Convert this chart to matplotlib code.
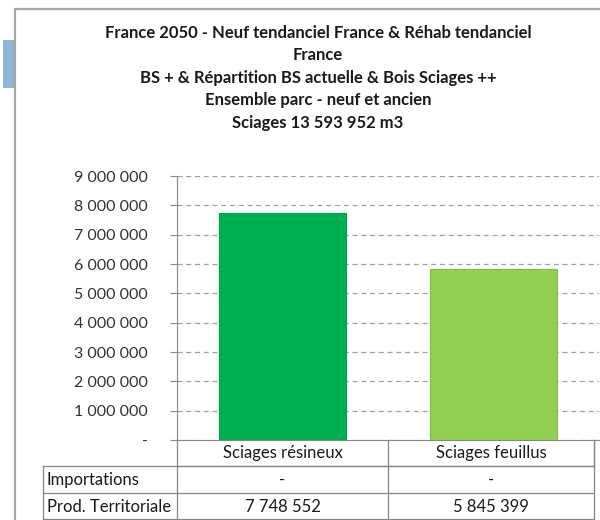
import matplotlib.pyplot as plt
from matplotlib.lines import Line2D
from matplotlib.patches import Rectangle

# données
categories = ["Sciages résineux", "Sciages feuillus"]
importations = [0, 0]
prod_territoriale = [7748552, 5845399]
row_labels = ["Importations", "Prod. Territoriale"]
yticks = [0, 1000000, 2000000, 3000000, 4000000, 5000000, 6000000, 7000000, 8000000, 9000000]
title_lines = [
    "France 2050 - Neuf tendanciel France & Réhab tendanciel",
    "France",
    "BS + & Répartition BS actuelle & Bois Sciages ++",
    "Ensemble parc - neuf et ancien",
    "Sciages 13 593 952 m3",
]
colors = ["#00b050", "#92d050"]

W, H = 600, 520
plt.rcParams["font.family"] = ["Lato", "DejaVu Sans"]


def fx(x):
    return x / W


def fy(y):
    return 1 - y / H


def fmt(v):
    if v == 0:
        return "-"
    return f"{v:,}".replace(",", " ")


fig = plt.figure(figsize=(6, 5.2), dpi=100)

# cadre du graphique
fig.add_artist(Line2D([fx(15), fx(15), fx(600)], [fy(520), fy(9), fy(9)],
                      transform=fig.transFigure, color="#a6a6a6", lw=1.6))
fig.add_artist(Rectangle((fx(3), fy(88)), fx(11), 48 / H, transform=fig.transFigure,
                         color="#8eb4d9", lw=0))

# titre
for i, line in enumerate(title_lines):
    fig.text(fx(318), fy(33 + i * 22.5), line, ha="center", va="center",
             fontsize=12, fontweight="bold", color="#1a1a1a")

ax = fig.add_axes([fx(177), fy(440), fx(599) - fx(177), (440 - 176) / H])
x = list(range(len(categories)))
ax.bar(x, prod_territoriale, width=0.6, color=colors, edgecolor=["#00a048", "#84bc48"],
       lw=0.8, zorder=3)
ax.set_xlim(-0.5, 1.5)
ax.set_ylim(0, 9000000)
ax.set_yticks(yticks)
ax.set_yticklabels([fmt(v) for v in yticks], fontsize=11.5, color="#333333")
ax.yaxis.grid(True, ls=(0, (4, 3)), color="#a0a0a0", lw=0.9)
ax.set_xticks([])
for s in ["top", "right"]:
    ax.spines[s].set_visible(False)
ax.spines["left"].set_color("#868686")
ax.spines["bottom"].set_color("#868686")
ax.tick_params(axis="y", length=5, color="#868686", pad=16)

# tableau de données
lc = "#868686"
cols = [177, 388, 594]
hlines = [(177, 594, 466), (43, 594, 466), (43, 594, 493), (43, 594, 519)]
for x0, x1, y in hlines:
    fig.add_artist(Line2D([fx(x0), fx(x1)], [fy(y), fy(y)], transform=fig.transFigure,
                          color=lc, lw=0.9))
for c in cols:
    fig.add_artist(Line2D([fx(c), fx(c)], [fy(440), fy(520)], transform=fig.transFigure,
                          color=lc, lw=0.9))
fig.add_artist(Line2D([fx(43), fx(43)], [fy(466), fy(520)], transform=fig.transFigure,
                      color=lc, lw=0.9))
fig.add_artist(Line2D([fx(594), fx(594)], [fy(440), fy(466)], transform=fig.transFigure,
                      color=lc, lw=0.9))

centers = [(cols[i] + cols[i + 1]) / 2 for i in range(2)]
for i, cat in enumerate(categories):
    fig.text(fx(centers[i]), fy(453), cat, ha="center", va="center", fontsize=12, color="#1a1a1a")
rows = [importations, prod_territoriale]
for r, (lab, vals) in enumerate(zip(row_labels, rows)):
    yy = 480 + r * 27
    fig.text(fx(47), fy(yy), lab, ha="left", va="center", fontsize=12, color="#1a1a1a")
    for i, v in enumerate(vals):
        fig.text(fx(centers[i]), fy(yy), fmt(v), ha="center", va="center", fontsize=12,
                 color="#1a1a1a")

fig.savefig("out.png", dpi=100)
